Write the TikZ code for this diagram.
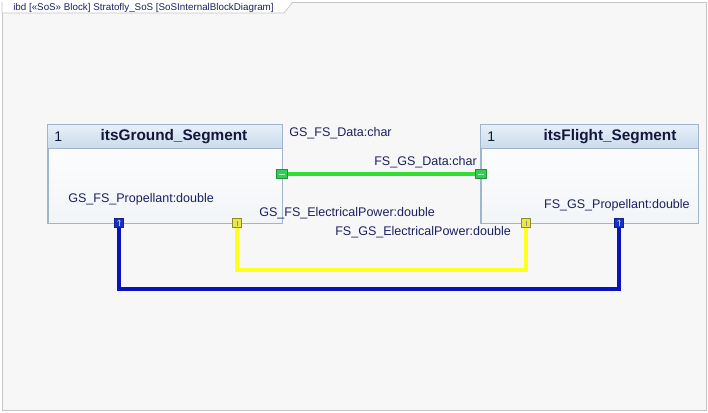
\documentclass[tikz,border=0pt]{standalone}
\usepackage{fontspec}
\setmainfont{Liberation Sans}
\usetikzlibrary{calc,positioning}
\definecolor{bgc}{HTML}{F7F7F7}
\definecolor{framec}{HTML}{C4C4C4}
\definecolor{hdtop}{HTML}{E6EFF8}
\definecolor{hdbot}{HTML}{C9DBEC}
\definecolor{blkborder}{HTML}{9DB5CD}
\definecolor{bodybot}{HTML}{F2F5F8}
\definecolor{txt}{HTML}{1B2160}
\definecolor{ttl}{HTML}{14163A}
\definecolor{grn}{HTML}{33DD33}
\definecolor{grnport}{HTML}{33CC55}
\definecolor{ylw}{HTML}{FFFF22}
\definecolor{ylwport}{HTML}{E8E84A}
\definecolor{blu}{HTML}{0A12C0}
\definecolor{bluport}{HTML}{1830C8}
\tikzset{
  blockbox/.style={draw=blkborder, line width=0.6pt, top color=white, bottom color=bodybot, rectangle, inner sep=0pt},
  lbl/.style={text=txt, font=\fontsize{9.4}{11}\selectfont, inner sep=0pt},
  ttlstyle/.style={text=ttl, font=\fontsize{11.5}{13}\selectfont\bfseries, inner sep=0pt},
  numstyle/.style={text=ttl, font=\fontsize{10.5}{12}\selectfont, inner sep=0pt},
  portg/.style={draw=grnport!70!black, fill=grnport, minimum width=8pt, minimum height=7pt, inner sep=0pt, line width=0.3pt},
  porty/.style={draw=ylwport!60!black, fill=ylwport, minimum width=7pt, minimum height=7pt, inner sep=0pt, line width=0.3pt},
  portb/.style={draw=bluport!70!black, fill=bluport, minimum width=6.5pt, minimum height=7pt, inner sep=0pt, line width=0.3pt},
  conn/.style={line width=2.3pt},
}
\begin{document}
\begin{tikzpicture}[x=0.75pt,y=-0.75pt]
\useasboundingbox (0,0) rectangle (708,412);
\fill[white] (0,0) rectangle (708,412);
% frame
\draw[framec, fill=bgc, line width=0.6pt] (2,2) rectangle (706,410);
% tab
\draw[framec, fill=white, line width=0.5pt] (2,2) -- (2,13) -- (284,13) -- (292,3) -- (292,2);
\node[anchor=west, text=txt, font=\fontsize{7.35}{8}\selectfont, inner sep=0pt] (tab) at (13,7.5) {ibd [«SoS» Block] Stratofly\_SoS [SoSInternalBlockDiagram]};

% blocks
\node[blockbox, minimum width=175.5pt, minimum height=73.5pt] (gs) at (165,174) {};
\node[blockbox, minimum width=162.75pt, minimum height=73.5pt] (fs) at (589.5,174) {};
\foreach \b in {gs,fs}{
  \shade[top color=hdtop, bottom color=hdbot] ($(\b.north west)+(0.5,0.5)$) rectangle ($(\b.north east)+(-0.5,24)$);
  \draw[blkborder, line width=0.6pt] ($(\b.north west)+(0,24)$) -- ($(\b.north east)+(0,24)$);
  \draw[blkborder, line width=0.6pt] (\b.north west) rectangle (\b.south east);
}
\node[numstyle, anchor=west] (gsn) at (54,137) {1};
\node[ttlstyle] (gst) at (174,137) {itsGround\_Segment};
\node[numstyle, anchor=west] (fsn) at (487,137) {1};
\node[ttlstyle] (fst) at (610,137) {itsFlight\_Segment};

% labels
\node[lbl, anchor=west] (l1) at (68,199) {GS\_FS\_Propellant:double};
\node[lbl, anchor=east] (l2) at (690,205) {FS\_GS\_Propellant:double};
\node[lbl, anchor=west] (l3) at (289,133) {GS\_FS\_Data:char};
\node[lbl, anchor=east] (l4) at (477,162) {FS\_GS\_Data:char};
\node[lbl, anchor=west] (l5) at (259,213) {GS\_FS\_ElectricalPower:double};
\node[lbl, anchor=west] (l6) at (335,232) {FS\_GS\_ElectricalPower:double};

% connector paths (beneath ports)
\coordinate (ycorner) at (237,270);
\coordinate (bcorner) at (119,289);
\coordinate (gpA) at (282,174);
\coordinate (gpB) at (481,174);
\coordinate (ypA) at (237,223);
\coordinate (ypB) at (526,223);
\coordinate (bpA) at (119,223);
\coordinate (bpB) at (619,223);
\draw[grn, conn] (gpA) -- (gpB);
\draw[ylw, conn] (ypA) -- (ycorner) -| (ypB);
\draw[blu, conn] (bpA) -- (bcorner) -| (bpB);

% ports
\node[portg] (pg1) at (gpA) {};
\node[portg] (pg2) at (gpB) {};
\node[porty] (py1) at (ypA) {};
\node[porty] (py2) at (ypB) {};
\node[portb] (pb1) at (bpA) {};
\node[portb] (pb2) at (bpB) {};
% port glyphs
\foreach \p in {pg1,pg2}{\draw[white!60!grnport, line width=0.5pt] ($(\p.center)+(-3,0)$) -- ($(\p.center)+(3,0)$);}
\foreach \p in {py1,py2}{\draw[black!45, line width=0.5pt] ($(\p.center)+(0,-2.5)$) -- ($(\p.center)+(0,2.5)$);}
\foreach \p in {pb1,pb2}{\draw[white!70!bluport, line width=0.5pt] ($(\p.center)+(0,-3)$) -- ($(\p.center)+(0,3)$);
  \draw[white!70!bluport, line width=0.4pt] ($(\p.center)+(-1.5,-1.5)$) -- ($(\p.center)+(0,-3)$) -- ($(\p.center)+(1.5,-1.5)$);}
\end{tikzpicture}
\end{document}
